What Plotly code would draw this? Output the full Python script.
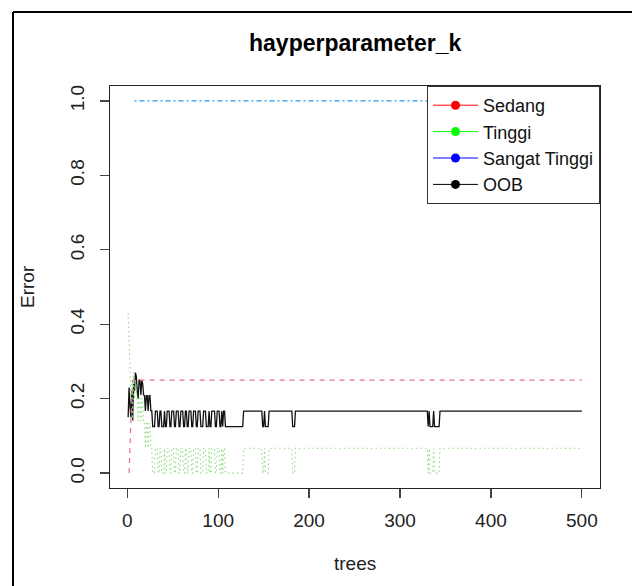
import plotly.graph_objects as go

# ---------------- data ----------------
trees = list(range(1, 501))

H = 1 / 6      # OOB plateau
L = 1 / 8      # OOB dip
T1 = 1 / 15    # Tinggi plateau

oob_early = [0.15, 0.23, 0.18, 0.15, 0.22, 0.14, 0.24, 0.22, 0.27, 0.26, 0.22, 0.20,
             0.25, 0.25, 0.21, 0.25, 0.24, 0.21, 0.208, 0.167, 0.208, 0.208, 0.167,
             0.208, 0.208, 0.167, 0.167]
oob_runs = [(L, 3), (H, 3), (L, 2), (H, 2), (L, 3), (H, 1), (L, 2), (H, 3), (L, 2), (H, 3),
            (L, 2), (H, 3), (L, 2), (H, 3), (L, 2), (H, 2), (L, 2), (H, 3), (L, 2), (H, 3),
            (L, 2), (H, 3), (L, 3), (H, 3), (L, 3), (H, 1), (L, 2), (H, 4), (L, 2), (H, 3),
            (L, 2), (H, 1), (L, 1), (H, 2), (L, 20), (H, 21), (L, 2), (H, 1), (L, 4), (H, 26),
            (L, 3), (H, 146), (L, 1), (H, 1), (L, 4), (H, 1), (L, 6), (H, 157)]

tinggi_early = [0.43, 0.33, 0.25, 0.20, 0.25, 0.14, 0.27, 0.20, 0.25, 0.23, 0.20, 0.14,
                0.20, 0.20, 0.14, 0.20, 0.20, 0.133, 0.133, 0.067, 0.133, 0.133, 0.067,
                0.133, 0.133, 0.067, 0.067]
tinggi_runs = [(0, 3), (T1, 3), (0, 2), (T1, 2), (0, 3), (T1, 1), (0, 2), (T1, 3), (0, 2), (T1, 3),
               (0, 2), (T1, 3), (0, 2), (T1, 3), (0, 2), (T1, 2), (0, 2), (T1, 3), (0, 2), (T1, 3),
               (0, 2), (T1, 3), (0, 3), (T1, 3), (0, 3), (T1, 1), (0, 2), (T1, 4), (0, 2), (T1, 3),
               (0, 2), (T1, 1), (0, 1), (T1, 2), (0, 20), (T1, 21), (0, 2), (T1, 1), (0, 4), (T1, 26),
               (0, 3), (T1, 146), (0, 1), (T1, 1), (0, 4), (T1, 1), (0, 6), (T1, 157)]

sedang_early = [None, 0.0, 0.10, 0.14, 0.20]
sedang_runs = [(0.25, 495)]

sangat_runs = [(None, 7), (1.0, 493)]

x_ticks = [0, 100, 200, 300, 400, 500]
y_ticks = [0.0, 0.2, 0.4, 0.6, 0.8, 1.0]
y_ticklabels = ["0.0", "0.2", "0.4", "0.6", "0.8", "1.0"]
legend_names = ["Sedang", "Tinggi", "Sangat Tinggi", "OOB"]
legend_colors = ["#FF0000", "#00FF00", "#0000FF", "#000000"]


def expand(early, runs):
    out = list(early)
    for v, n in runs:
        out.extend([v] * n)
    return out


oob = expand(oob_early, oob_runs)
tinggi = expand(tinggi_early, tinggi_runs)
sedang = expand(sedang_early, sedang_runs)
sangat = expand([], sangat_runs)

FONT = "Liberation Sans, Arial, sans-serif"

fig = go.Figure()
# draw order like matplot: OOB, Sedang, Tinggi, Sangat Tinggi
fig.add_trace(go.Scatter(x=trees, y=oob, mode="lines", showlegend=False,
                         line=dict(color="#111111", width=1.3), hoverinfo="skip"))
fig.add_trace(go.Scatter(x=trees, y=sedang, mode="lines", showlegend=False,
                         line=dict(color="#E8708A", width=1.2, dash="5px,5px"), hoverinfo="skip"))
fig.add_trace(go.Scatter(x=trees, y=tinggi, mode="lines", showlegend=False,
                         line=dict(color="#8EDD80", width=1.1, dash="1.5px,3px"), hoverinfo="skip"))
fig.add_trace(go.Scatter(x=trees, y=sangat, mode="lines", showlegend=False,
                         line=dict(color="#2297E6", width=1.3, dash="2px,3px,5px,3px"), hoverinfo="skip"))

for name, col in zip(legend_names, legend_colors):
    fig.add_trace(go.Scatter(x=[None], y=[None], mode="lines+markers", name=name,
                             line=dict(color=col, width=1),
                             marker=dict(color=col, size=9)))

W, Hh = 632, 586
ml, mr, mt, mb = 110, 32, 86, 98
pw, ph = W - ml - mr, Hh - mt - mb


def px2x(px):
    return (px - ml) / pw


def py2y(py):
    return (Hh - mb - py) / ph


fig.update_layout(
    width=W, height=Hh,
    margin=dict(l=ml, r=mr, t=mt, b=mb, autoexpand=False),
    paper_bgcolor="white", plot_bgcolor="white",
    font=dict(family=FONT, size=19, color="#222"),
    showlegend=True,
    hovermode=False,
    legend=dict(x=1, xanchor="right", y=1, yanchor="top", bgcolor="white",
                bordercolor="#333", borderwidth=1, font=dict(size=18, color="#111"),
                tracegroupgap=0, itemwidth=45),
    xaxis=dict(range=[1 - 0.04 * 499, 500 + 0.04 * 499], tickvals=x_ticks,
               showgrid=False, zeroline=False, showline=True, linecolor="#222", linewidth=1.3,
               mirror=True, ticks="outside", ticklen=9, tickcolor="#444", tickwidth=1.3,
               tickfont=dict(size=19, color="#222"), ticklabelstandoff=6),
    yaxis=dict(range=[-0.04, 1.04], tickvals=y_ticks, ticktext=y_ticklabels, tickangle=-90,
               showgrid=False, zeroline=False, showline=True, linecolor="#222", linewidth=1.3,
               mirror=True, ticks="outside", ticklen=9, tickcolor="#444", tickwidth=1.3,
               tickfont=dict(size=19, color="#222"), ticklabelstandoff=8),
    annotations=[
        dict(text="<b>hayperparameter_k</b>", x=0.5, y=py2y(43), xref="paper", yref="paper",
             showarrow=False, xanchor="center", yanchor="middle",
             font=dict(size=23, color="#000", family=FONT)),
        dict(text="trees", x=0.5, y=py2y(563), xref="paper", yref="paper",
             showarrow=False, xanchor="center", yanchor="middle",
             font=dict(size=19, color="#222", family=FONT)),
        dict(text="Error", x=px2x(27), y=0.5, xref="paper", yref="paper", textangle=-90,
             showarrow=False, xanchor="center", yanchor="middle",
             font=dict(size=19, color="#222", family=FONT)),
    ],
    shapes=[
        dict(type="line", xref="paper", yref="paper", x0=px2x(13), x1=px2x(13),
             y0=py2y(12), y1=py2y(600), line=dict(color="#000", width=2)),
        dict(type="line", xref="paper", yref="paper", x0=px2x(13), x1=px2x(640),
             y0=py2y(12), y1=py2y(12), line=dict(color="#000", width=2)),
    ],
)

fig.write_html("out.html",
               config={"displayModeBar": False, "staticPlot": True},
               post_script="document.body.style.margin='0';document.body.style.overflow='hidden';")
